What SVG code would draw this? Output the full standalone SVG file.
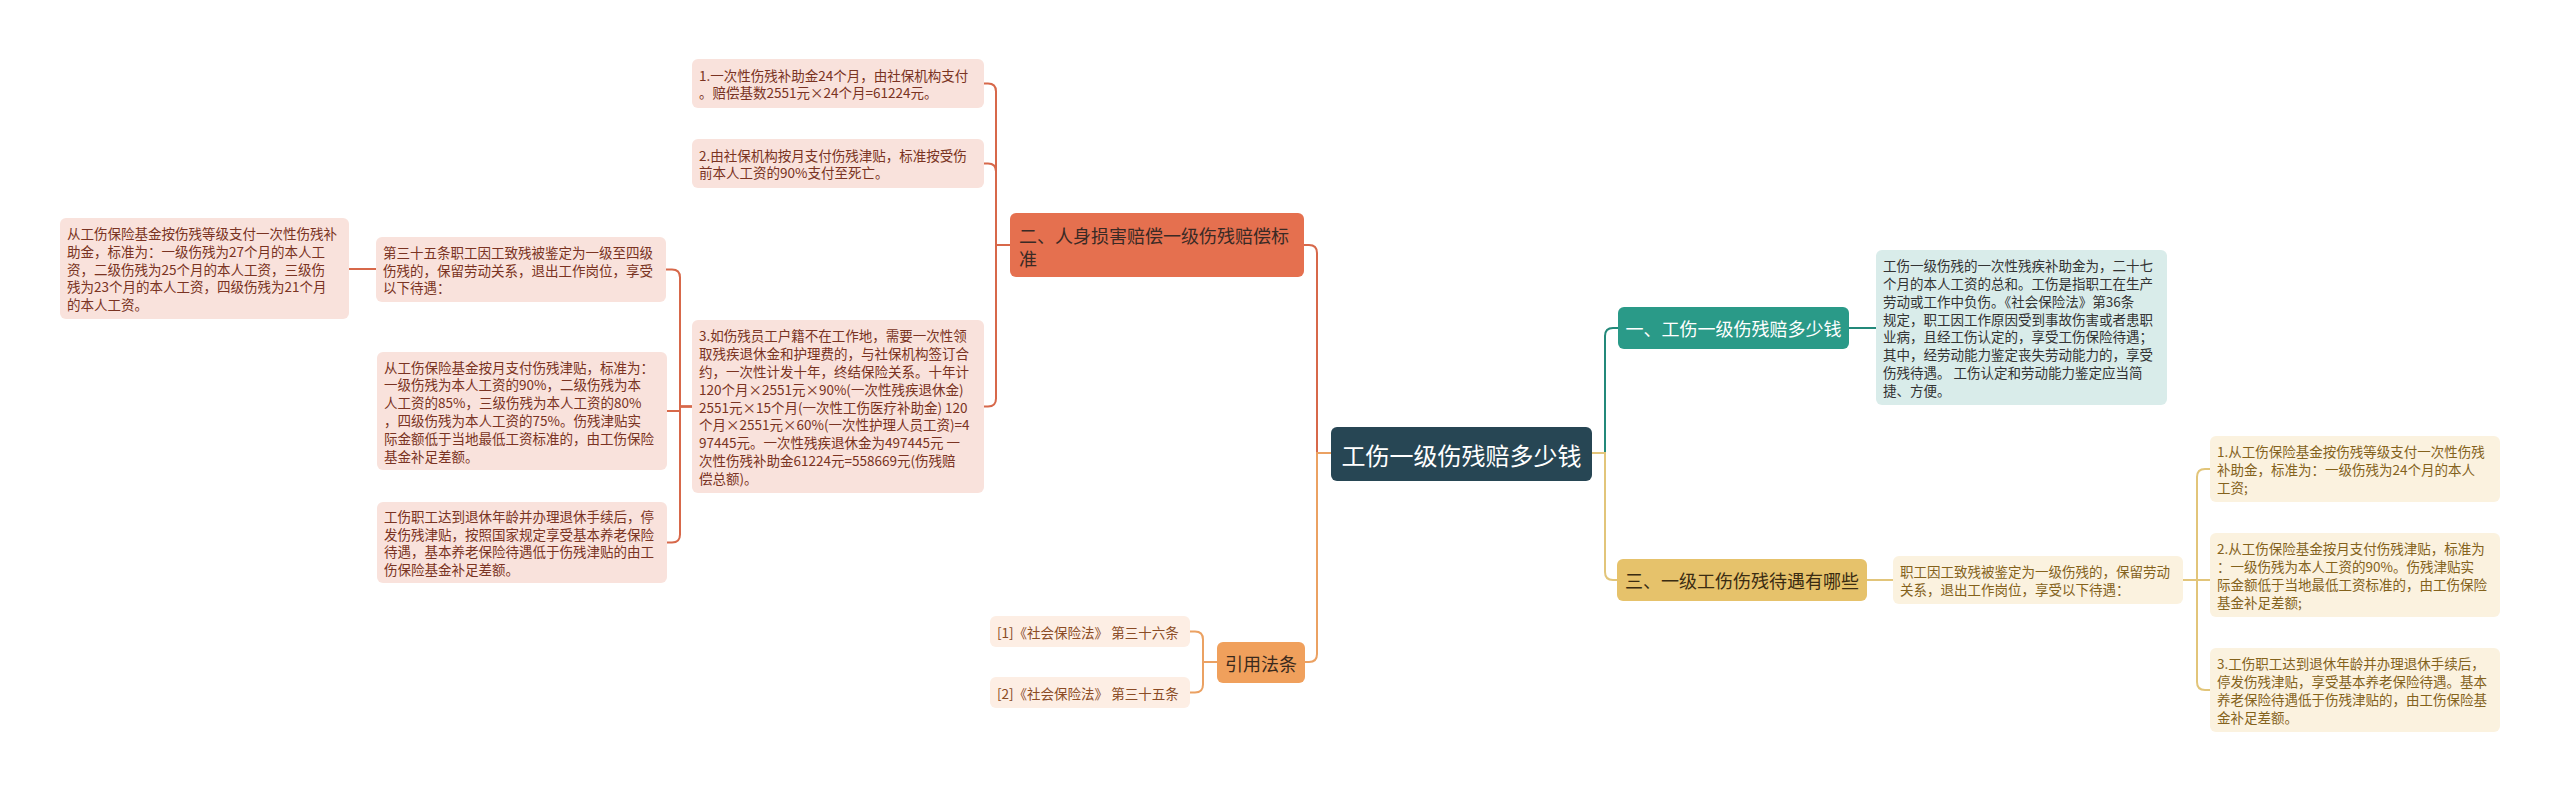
<svg xmlns="http://www.w3.org/2000/svg" width="2560" height="792" viewBox="0 0 2560 792">
<style>
text{font-family:"Noto Sans CJK SC","Noto Sans",sans-serif;dominant-baseline:central}
.leaf{font-size:13.5px}
.c-leaf rect{fill:#F9E2DC}.c-leaf text{fill:#7a3322}
.o-leaf rect{fill:#FDEEE4}.o-leaf text{fill:#8a4b24}
.t-leaf rect{fill:#D9ECEA}.t-leaf text{fill:#333333}
.y-leaf rect{fill:#FBF2DF}.y-leaf text{fill:#84621c}
.br{font-size:18px}
.lc{fill:none;stroke:#D7684A;stroke-width:2}
.lo{fill:none;stroke:#EBA162;stroke-width:2}
.lt{fill:none;stroke:#23897A;stroke-width:2}
.ly{fill:none;stroke:#E2C57A;stroke-width:2}
</style>
<rect width="2560" height="792" fill="#ffffff"/>
<g id="connectors">
<path class="lc" d="M1331,453 H1317 V253 Q1317,245 1309,245 H1304"/>
<path class="lo" d="M1331,453 H1317 V654 Q1317,662 1309,662 H1304"/>
<path class="lt" d="M1592,453 H1605 V336 Q1605,328 1613,328 H1618"/>
<path class="ly" d="M1592,453 H1605 V572 Q1605,580 1613,580 H1617"/>
<path class="lc" d="M1011,245 H996 V91.5 Q996,83.5 988,83.5 H984"/>
<path class="lc" d="M1011,245 H996 V171.5 Q996,163.5 988,163.5 H984"/>
<path class="lc" d="M1011,245 H996 V398.5 Q996,406.5 988,406.5 H984"/>
<path class="lc" d="M692,406.5 H680 V277.5 Q680,269.5 672,269.5 H666"/>
<path class="lc" d="M692,406.5 H680 V411 H667"/>
<path class="lc" d="M692,406.5 H680 V534.5 Q680,542.5 672,542.5 H667"/>
<path class="lc" d="M376,269 H349"/>
<path class="lo" d="M1217,662 H1203 V639.5 Q1203,631.5 1195,631.5 H1190"/>
<path class="lo" d="M1217,662 H1203 V684.5 Q1203,692.5 1195,692.5 H1190"/>
<path class="lt" d="M1849,328 H1876"/>
<path class="ly" d="M1867,580 H1893"/>
<path class="ly" d="M2183,580 H2197 V477 Q2197,469 2205,469 H2210"/>
<path class="ly" d="M2183,580 H2210"/>
<path class="ly" d="M2183,580 H2197 V682 Q2197,690 2205,690 H2210"/>
</g>
<g id="root">
<rect x="1331" y="427" width="261" height="54" rx="6" fill="#274654"/>
<text x="1461.5" y="454" font-size="24" fill="#ffffff" text-anchor="middle">工伤一级伤残赔多少钱</text>
</g>
<g id="b2">
<rect x="1010" y="213" width="294" height="64" rx="6" fill="#E5704F"/>
<text class="br" fill="#3a2a25"><tspan x="1019" y="235">二、人身损害赔偿一级伤残赔偿标</tspan><tspan x="1019" y="258">准</tspan></text>
</g>
<g id="b2-1" class="c-leaf leaf">
<rect x="692" y="59" width="292" height="49" rx="6"/>
<text><tspan x="699" y="74.6">1.一次性伤残补助金24个月，由社保机构支付</tspan><tspan x="699" y="92.4">。赔偿基数2551元×24个月=61224元。</tspan></text>
</g>
<g id="b2-2" class="c-leaf leaf">
<rect x="692" y="139" width="292" height="49" rx="6"/>
<text><tspan x="699" y="154.6">2.由社保机构按月支付伤残津贴，标准按受伤</tspan><tspan x="699" y="172.4">前本人工资的90%支付至死亡。</tspan></text>
</g>
<g id="b2-3" class="c-leaf leaf">
<rect x="692" y="320" width="292" height="173" rx="6"/>
<text><tspan x="699" y="335.3">3.如伤残员工户籍不在工作地，需要一次性领</tspan><tspan x="699" y="353.1">取残疾退休金和护理费的，与社保机构签订合</tspan><tspan x="699" y="370.9">约，一次性计发十年，终结保险关系。十年计</tspan><tspan x="699" y="388.7">120个月×2551元×90%(一次性残疾退休金)</tspan><tspan x="699" y="406.5">2551元×15个月(一次性工伤医疗补助金) 120</tspan><tspan x="699" y="424.3">个月×2551元×60%(一次性护理人员工资)=4</tspan><tspan x="699" y="442.1">97445元。一次性残疾退休金为497445元 一</tspan><tspan x="699" y="459.9">次性伤残补助金61224元=558669元(伤残赔</tspan><tspan x="699" y="477.7">偿总额)。</tspan></text>
</g>
<g id="b2-3-1" class="c-leaf leaf">
<rect x="376" y="237" width="290" height="65" rx="6"/>
<text><tspan x="383" y="251.7">第三十五条职工因工致残被鉴定为一级至四级</tspan><tspan x="383" y="269.5">伤残的，保留劳动关系，退出工作岗位，享受</tspan><tspan x="383" y="287.3">以下待遇：</tspan></text>
</g>
<g id="b2-3-1-1" class="c-leaf leaf">
<rect x="60" y="218" width="289" height="101" rx="6"/>
<text><tspan x="67" y="232.9">从工伤保险基金按伤残等级支付一次性伤残补</tspan><tspan x="67" y="250.7">助金，标准为：一级伤残为27个月的本人工</tspan><tspan x="67" y="268.5">资，二级伤残为25个月的本人工资，三级伤</tspan><tspan x="67" y="286.3">残为23个月的本人工资，四级伤残为21个月</tspan><tspan x="67" y="304.1">的本人工资。</tspan></text>
</g>
<g id="b2-3-2" class="c-leaf leaf">
<rect x="377" y="352" width="290" height="118" rx="6"/>
<text><tspan x="384" y="366.5">从工伤保险基金按月支付伤残津贴，标准为：</tspan><tspan x="384" y="384.3">一级伤残为本人工资的90%，二级伤残为本</tspan><tspan x="384" y="402.1">人工资的85%，三级伤残为本人工资的80%</tspan><tspan x="384" y="419.9">，四级伤残为本人工资的75%。伤残津贴实</tspan><tspan x="384" y="437.7">际金额低于当地最低工资标准的，由工伤保险</tspan><tspan x="384" y="455.5">基金补足差额。</tspan></text>
</g>
<g id="b2-3-3" class="c-leaf leaf">
<rect x="377" y="502" width="290" height="81" rx="6"/>
<text><tspan x="384" y="515.8">工伤职工达到退休年龄并办理退休手续后，停</tspan><tspan x="384" y="533.6">发伤残津贴，按照国家规定享受基本养老保险</tspan><tspan x="384" y="551.4">待遇，基本养老保险待遇低于伤残津贴的由工</tspan><tspan x="384" y="569.2">伤保险基金补足差额。</tspan></text>
</g>
<g id="b4">
<rect x="1217" y="642" width="88" height="41" rx="6" fill="#F0A05C"/>
<text x="1261" y="662.5" class="br" fill="#3b2a1c" text-anchor="middle">引用法条</text>
</g>
<g id="b4-1" class="o-leaf leaf">
<rect x="990" y="616" width="200" height="31" rx="6"/>
<text x="997" y="631.5">[1]《社会保险法》 第三十六条</text>
</g>
<g id="b4-2" class="o-leaf leaf">
<rect x="990" y="677" width="200" height="31" rx="6"/>
<text x="997" y="692.5">[2]《社会保险法》 第三十五条</text>
</g>
<g id="b1">
<rect x="1618" y="307" width="231" height="42" rx="6" fill="#2A9A88"/>
<text x="1733.5" y="328" class="br" fill="#ffffff" text-anchor="middle">一、工伤一级伤残赔多少钱</text>
</g>
<g id="b1-1" class="t-leaf leaf">
<rect x="1876" y="250" width="291" height="155" rx="6"/>
<text><tspan x="1883" y="265.2">工伤一级伤残的一次性残疾补助金为，二十七</tspan><tspan x="1883" y="283">个月的本人工资的总和。工伤是指职工在生产</tspan><tspan x="1883" y="300.8">劳动或工作中负伤。《社会保险法》第36条</tspan><tspan x="1883" y="318.6">规定，职工因工作原因受到事故伤害或者患职</tspan><tspan x="1883" y="336.4">业病，且经工伤认定的，享受工伤保险待遇；</tspan><tspan x="1883" y="354.2">其中，经劳动能力鉴定丧失劳动能力的，享受</tspan><tspan x="1883" y="372">伤残待遇。 工伤认定和劳动能力鉴定应当简</tspan><tspan x="1883" y="389.8">捷、方便。</tspan></text>
</g>
<g id="b3">
<rect x="1617" y="559" width="250" height="42" rx="6" fill="#E6C26B"/>
<text x="1742" y="580" class="br" fill="#3a2c12" text-anchor="middle">三、一级工伤伤残待遇有哪些</text>
</g>
<g id="b3-1" class="y-leaf leaf">
<rect x="1893" y="556" width="290" height="48" rx="6"/>
<text><tspan x="1900" y="571.1">职工因工致残被鉴定为一级伤残的，保留劳动</tspan><tspan x="1900" y="588.9">关系，退出工作岗位，享受以下待遇：</tspan></text>
</g>
<g id="b3-1-1" class="y-leaf leaf">
<rect x="2210" y="436" width="290" height="66" rx="6"/>
<text><tspan x="2217" y="451.2">1.从工伤保险基金按伤残等级支付一次性伤残</tspan><tspan x="2217" y="469">补助金，标准为：一级伤残为24个月的本人</tspan><tspan x="2217" y="486.8">工资;</tspan></text>
</g>
<g id="b3-1-2" class="y-leaf leaf">
<rect x="2210" y="533" width="290" height="84" rx="6"/>
<text><tspan x="2217" y="548.3">2.从工伤保险基金按月支付伤残津贴，标准为</tspan><tspan x="2217" y="566.1">：一级伤残为本人工资的90%。伤残津贴实</tspan><tspan x="2217" y="583.9">际金额低于当地最低工资标准的，由工伤保险</tspan><tspan x="2217" y="601.7">基金补足差额;</tspan></text>
</g>
<g id="b3-1-3" class="y-leaf leaf">
<rect x="2210" y="648" width="290" height="84" rx="6"/>
<text><tspan x="2217" y="663.3">3.工伤职工达到退休年龄并办理退休手续后，</tspan><tspan x="2217" y="681.1">停发伤残津贴，享受基本养老保险待遇。基本</tspan><tspan x="2217" y="698.9">养老保险待遇低于伤残津贴的，由工伤保险基</tspan><tspan x="2217" y="716.7">金补足差额。</tspan></text>
</g>
</svg>
